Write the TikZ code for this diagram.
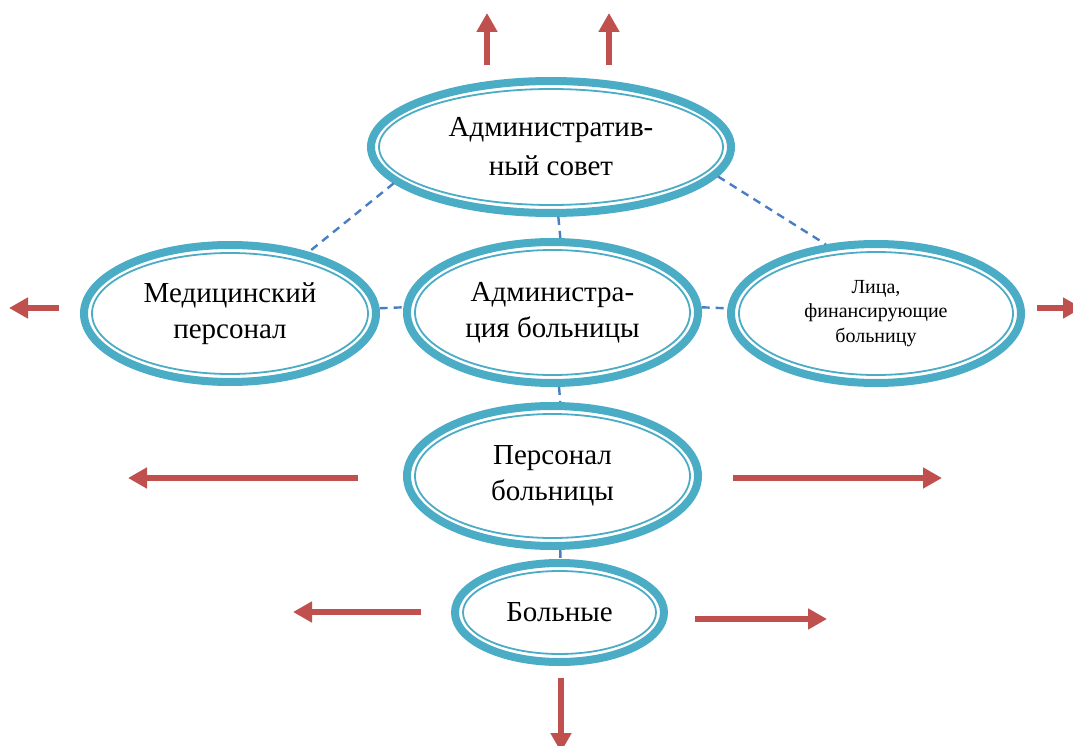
\documentclass[tikz,border=0pt]{standalone}
\usepackage{fontspec}
\setmainfont{Liberation Serif}
\usetikzlibrary{shapes.geometric,arrows.meta,calc}
\definecolor{ocyan}{HTML}{4BACC6}
\definecolor{dblue}{HTML}{4A7EC4}
\definecolor{ared}{HTML}{C0504D}
\tikzset{
  oval/.style={ellipse, draw=ocyan, line width=8pt, fill=white, align=center, inner sep=0pt,
    font=\fontsize{29}{36}\selectfont,
    path picture={\draw[ocyan,line width=1.8pt] let \p1=(path picture bounding box.north east),
      \p2=(path picture bounding box.center) in (\p2) ellipse [x radius=\x1-\x2-8pt, y radius=\y1-\y2-8pt];}},
  link/.style={dblue, line width=2.4pt, dash pattern=on 8pt off 6pt},
  redarrow/.style={ared, line width=6.5pt, -{Triangle[width=20pt,length=19pt]}}
}
\begin{document}
\begin{tikzpicture}[x=1pt,y=-1pt]
\clip (0,0) rectangle (1073,746);
\fill[white] (0,0) rectangle (1073,746);
% nodes
\node[oval, minimum width=360pt, minimum height=132pt, font=\fontsize{29}{39}\selectfont] (top) at (551,147) {Административ-\\ный совет};
\node[oval, minimum width=292pt, minimum height=137pt] (left) at (230,313.5) {Медицинский\\персонал};
\node[oval, minimum width=291pt, minimum height=141pt] (mid) at (552.5,312.5) {Администра-\\ция больницы};
\node[oval, minimum width=290pt, minimum height=139pt, font=\fontsize{20}{24.5}\selectfont] (right) at (876,313.5) {Лица,\\финансирующие\\больницу};
\node[oval, minimum width=291pt, minimum height=140pt] (staff) at (552.5,476) {Персонал\\больницы};
\node[oval, minimum width=209pt, minimum height=99pt] (sick) at (559.5,612.5) {Больные};
% dashed links
\draw[link] (top.193) -- (left.38);
\draw[link] (top.350) -- (right.126);
\draw[link] (top.276.5) -- (mid.84.7);
\draw[link] (left.2) -- (mid.178);
\draw[link] (mid.2) -- (right.178);
\draw[link] (mid.275.7) -- (staff.84.2);
\draw[link] (staff.276.5) -- (sick.89);
% arrow end points
\coordinate (u1s) at (487,65);  \coordinate (u1e) at (487,13);
\coordinate (u2s) at (609,65);  \coordinate (u2e) at (609,13);
\coordinate (l1s) at (59,308);  \coordinate (l1e) at (9,308);
\coordinate (r1s) at (1037,308); \coordinate (r1e) at (1082,308);
\coordinate (l2s) at (358,478); \coordinate (l2e) at (128,478);
\coordinate (r2s) at (733,478); \coordinate (r2e) at (942,478);
\coordinate (l3s) at (421,612); \coordinate (l3e) at (293,612);
\coordinate (r3s) at (695,619); \coordinate (r3e) at (827,619);
\coordinate (ds) at (561,678);  \coordinate (de) at (561,752);
\foreach \a in {u1,u2,l1,r1,l2,r2,l3,r3,d} \draw[redarrow] (\a s) -- (\a e);
\end{tikzpicture}
\end{document}
